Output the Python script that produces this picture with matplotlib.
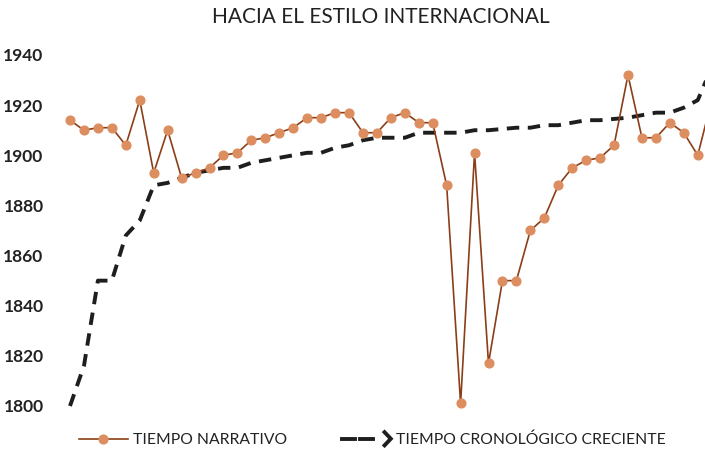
import matplotlib
matplotlib.use("Agg")
import matplotlib.pyplot as plt
from matplotlib.lines import Line2D
from matplotlib.legend_handler import HandlerBase

# datos (un punto por obra, ordenadas)
tiempo_narrativo = [1914, 1910, 1911, 1911, 1904, 1922, 1893, 1910, 1891, 1893,
                    1895, 1900, 1901, 1906, 1907, 1909, 1911, 1915, 1915, 1917,
                    1917, 1909, 1909, 1915, 1917, 1913, 1913, 1888, 1801, 1901,
                    1817, 1850, 1850, 1870, 1875, 1888, 1895, 1898, 1899, 1904,
                    1932, 1907, 1907, 1913, 1909, 1900, 1922]
tiempo_cronologico = [1800, 1816, 1850, 1850, 1868, 1874, 1888, 1889, 1891, 1893,
                      1894, 1895, 1895, 1897, 1898, 1899, 1900, 1901, 1901, 1903,
                      1904, 1906, 1907, 1907, 1907, 1909, 1909, 1909, 1909, 1910,
                      1910, 1910.5, 1911, 1911, 1912, 1912, 1913, 1914, 1914, 1914.5,
                      1915, 1916, 1917, 1917, 1919, 1922, 1935]
yticks = [1800, 1820, 1840, 1860, 1880, 1900, 1920, 1940]
titulo = "HACIA EL ESTILO INTERNACIONAL"
etiquetas = ["TIEMPO NARRATIVO", "TIEMPO CRONOLÓGICO CRECIENTE"]

LINE_COLOR = "#8B3E17"
MARKER_COLOR = "#DC8E60"
DASH_COLOR = "#1E1E1E"
DASHES = (3.2, 2.2)

plt.rcParams['font.family'] = ['Lato', 'DejaVu Sans']


class HandlerDashArrow(HandlerBase):
    """Dos guiones terminados en un chevrón '>' para la leyenda."""
    def create_artists(self, legend, orig_handle, xdescent, ydescent,
                       width, height, fontsize, trans):
        yc = height / 2 - ydescent
        x0 = -xdescent
        seg = width * 0.26
        gap = width * 0.11
        d1 = Line2D([x0, x0 + seg], [yc, yc], color=DASH_COLOR, lw=2.8, transform=trans)
        d2 = Line2D([x0 + seg + gap, x0 + 2 * seg + gap], [yc, yc], color=DASH_COLOR,
                    lw=2.8, transform=trans)
        h = height * 0.6
        tip = x0 + width
        chev = Line2D([tip - h * 0.95, tip, tip - h * 0.95], [yc + h, yc, yc - h],
                      color=DASH_COLOR, lw=2.8, solid_joinstyle='miter', transform=trans)
        return [d1, d2, chev]


fig = plt.figure(figsize=(7.05, 4.54), dpi=100)
W, H = 705, 454
# eje: x=0 en 70 px, paso 13.95 px; 1800 en y=406 px, 1940 en y=55 px
x0, dx = 70, 13.95
left = x0 - dx
right = x0 + 47 * dx
ax = fig.add_axes([left / W, (H - 406) / H, (right - left) / W, (406 - 55) / H])

x = list(range(len(tiempo_narrativo)))
ax.plot(x, tiempo_cronologico, color=DASH_COLOR, lw=2.8, dashes=DASHES,
        clip_on=False, zorder=2)
ax.plot(x, tiempo_narrativo, color=LINE_COLOR, lw=1.2, marker='o', markersize=6.3,
        markerfacecolor=MARKER_COLOR, markeredgecolor=MARKER_COLOR, clip_on=False, zorder=3)

ax.set_xlim(-1, 47)
ax.set_ylim(1800, 1940)
ax.set_yticks(yticks)
ax.set_yticklabels([str(t) for t in yticks], fontsize=12.5, fontweight='bold', color='#222222')
ax.set_xticks([])
ax.tick_params(axis='y', length=0, pad=9)
for s in ax.spines.values():
    s.set_visible(False)

fig.text(381 / W, 1 - 17 / H, titulo, ha='center', va='center', fontsize=15, color='#222222')

h1 = Line2D([], [], color=LINE_COLOR, lw=1.2, marker='o', markersize=6.3,
            markerfacecolor=MARKER_COLOR, markeredgecolor=MARKER_COLOR)
h2 = Line2D([], [])
fig.legend([h1, h2], etiquetas, loc='center', bbox_to_anchor=(372.5 / W, 1 - 440 / H),
           ncol=2, frameon=False, fontsize=11.3, handlelength=3.1, handletextpad=0.35,
           columnspacing=3.5, labelcolor='#222222',
           handler_map={h2: HandlerDashArrow()})

fig.savefig("out.png", dpi=100)
